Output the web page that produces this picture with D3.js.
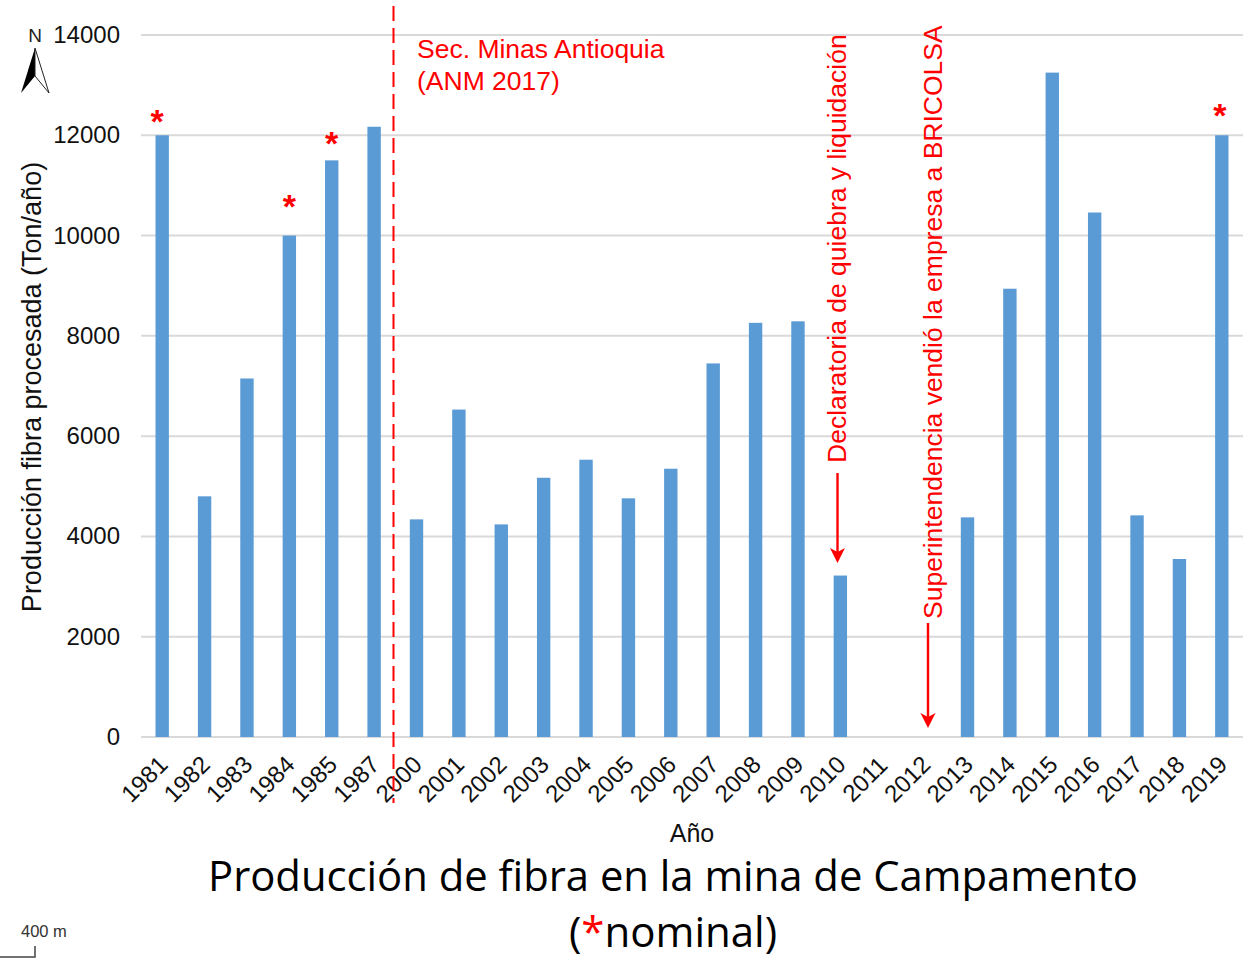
<!DOCTYPE html>
<html>
<head>
<meta charset="utf-8">
<script src="https://cdn.jsdelivr.net/npm/d3@7"></script>
<style>
  html, body { margin: 0; padding: 0; background: #fff; overflow: hidden; }
  text { font-family: "Liberation Sans", sans-serif; }
  text.title { font-family: "Open Sans", sans-serif; }
</style>
</head>
<body>
<div id="plots"></div>
<script>
// data
var years = ["1981", "1982", "1983", "1984", "1985", "1987", "2000", "2001", "2002", "2003", "2004", "2005", "2006",
             "2007", "2008", "2009", "2010", "2011", "2012", "2013", "2014", "2015", "2016", "2017", "2018", "2019"];
var fibra = [12000, 4800, 7150, 10000, 11500, 12170, 4340, 6530, 4240, 5170, 5530, 4760, 5350,
             7450, 8260, 8290, 3220, null, null, 4380, 8940, 13250, 10460, 4420, 3550, 12000];
var yTicks = [0, 2000, 4000, 6000, 8000, 10000, 12000, 14000];
var nominal = ["1981", "1984", "1985", "2019"];

var width = 1247;
var height = 958;
var red = "#ff0000";

var svg = d3.select("#plots")
            .append("svg")
            .attr("width", width)
            .attr("height", height);

var x = d3.scaleBand().domain(years).range([141, 1243]).paddingInner(0.684).paddingOuter(0.342);
var y = d3.scaleLinear().domain([0, 14000]).range([737, 35]);

// gridlines
svg.selectAll("line.grid")
   .data(yTicks)
   .enter()
   .append("line")
   .attr("class", "grid")
   .attr("x1", 141)
   .attr("x2", 1243)
   .attr("y1", function(d) { return y(d); })
   .attr("y2", function(d) { return y(d); })
   .attr("stroke", "#d9d9d9")
   .attr("stroke-width", 2);

// bars
svg.selectAll("rect.bar")
   .data(years.map(function(d, i) { return {year: d, value: fibra[i]}; }).filter(function(d) { return d.value !== null; }))
   .enter()
   .append("rect")
   .attr("class", "bar")
   .attr("x", function(d) { return x(d.year); })
   .attr("y", function(d) { return y(d.value); })
   .attr("width", x.bandwidth())
   .attr("height", function(d) { return y(0) - y(d.value); })
   .attr("fill", "#5b9bd5");

// y tick labels
svg.selectAll("text.ytick")
   .data(yTicks)
   .enter()
   .append("text")
   .attr("class", "ytick")
   .text(function(d) { return d; })
   .attr("x", 120)
   .attr("y", function(d) { return y(d) + 8; })
   .attr("text-anchor", "end")
   .attr("font-size", 24)
   .attr("fill", "#111");

// x tick labels
svg.selectAll("text.xtick")
   .data(years)
   .enter()
   .append("text")
   .attr("class", "xtick")
   .text(function(d) { return d; })
   .attr("transform", function(d) { return "translate(" + (x(d) + x.bandwidth() / 2 - 12) + ",785) rotate(-45)"; })
   .attr("text-anchor", "middle")
   .attr("font-size", 24)
   .attr("fill", "#111");

svg.append("text")
   .text("Año")
   .attr("x", 692)
   .attr("y", 842)
   .attr("text-anchor", "middle")
   .attr("font-size", 25)
   .attr("fill", "#111");

svg.append("text")
   .text("Producción fibra procesada (Ton/año)")
   .attr("transform", "translate(41,387) rotate(-90)")
   .attr("text-anchor", "middle")
   .attr("font-size", 27)
   .attr("fill", "#111");

// red asterisks over the nominal years
svg.selectAll("text.nominal")
   .data(nominal)
   .enter()
   .append("text")
   .attr("class", "nominal")
   .text("*")
   .attr("x", function(d) { return x(d) + x.bandwidth() / 2 - (d === "1981" ? 5 : 0) - (d === "2019" ? 2 : 0); })
   .attr("y", function(d) { return y(fibra[years.indexOf(d)]) + (d === "1985" ? -5 : d === "1984" ? -18 : d === "2019" ? -8 : -2); })
   .attr("text-anchor", "middle")
   .attr("font-size", 34)
   .attr("font-weight", "bold")
   .attr("fill", red);

// dashed divider
svg.append("line")
   .attr("x1", 393.5)
   .attr("x2", 393.5)
   .attr("y1", 6)
   .attr("y2", 803)
   .attr("stroke", red)
   .attr("stroke-width", 2)
   .attr("stroke-dasharray", "15,7");

// red annotations
svg.append("text").text("Sec. Minas Antioquia").attr("x", 417).attr("y", 58)
   .attr("font-size", 26.5).attr("fill", red);
svg.append("text").text("(ANM 2017)").attr("x", 417).attr("y", 90)
   .attr("font-size", 26.5).attr("fill", red);
svg.append("text").text("Declaratoria de quiebra y liquidación")
   .attr("transform", "translate(846,463) rotate(-90)")
   .attr("font-size", 26.5).attr("fill", red);
svg.append("text").text("Superintendencia vendió la empresa a BRICOLSA")
   .attr("transform", "translate(942,619) rotate(-90)")
   .attr("font-size", 26.5).attr("fill", red);

// arrows
svg.append("line").attr("x1", 837.5).attr("x2", 837.5).attr("y1", 473).attr("y2", 555)
   .attr("stroke", red).attr("stroke-width", 2.4);
svg.append("path").attr("d", "M830,548L837.5,563L845,548L837.5,552Z").attr("fill", red);
svg.append("line").attr("x1", 928).attr("x2", 928).attr("y1", 623).attr("y2", 720)
   .attr("stroke", red).attr("stroke-width", 2.4);
svg.append("path").attr("d", "M920.5,713L928,728L935.5,713L928,717Z").attr("fill", red);

// title
svg.append("text").attr("class", "title").text("Producción de fibra en la mina de Campamento")
   .attr("x", 673).attr("y", 891).attr("text-anchor", "middle")
   .attr("font-size", 42).attr("fill", "#000")
   .attr("textLength", 930).attr("lengthAdjust", "spacingAndGlyphs");
var sub = svg.append("text").attr("class", "title").attr("x", 673).attr("y", 947).attr("text-anchor", "middle")
   .attr("font-size", 42).attr("fill", "#000");
sub.append("tspan").text("(");
sub.append("tspan").text("*").attr("fill", red);
sub.append("tspan").text("nominal)");

// north arrow
svg.append("text").text("N").attr("x", 35).attr("y", 42).attr("text-anchor", "middle")
   .attr("font-size", 19).attr("fill", "#222");
svg.append("path").attr("d", "M35,48L21,93L35,76Z").attr("fill", "#000");
svg.append("path").attr("d", "M35,48L49,93L35,76Z").attr("fill", "#fff").attr("stroke", "#222").attr("stroke-width", 1);

// scale bar
svg.append("text").text("400 m").attr("x", 21).attr("y", 937).attr("font-size", 16.5).attr("fill", "#333");
svg.append("path").attr("d", "M0,957H35V946").attr("fill", "none").attr("stroke", "#444").attr("stroke-width", 1.5);
</script>
</body>
</html>
